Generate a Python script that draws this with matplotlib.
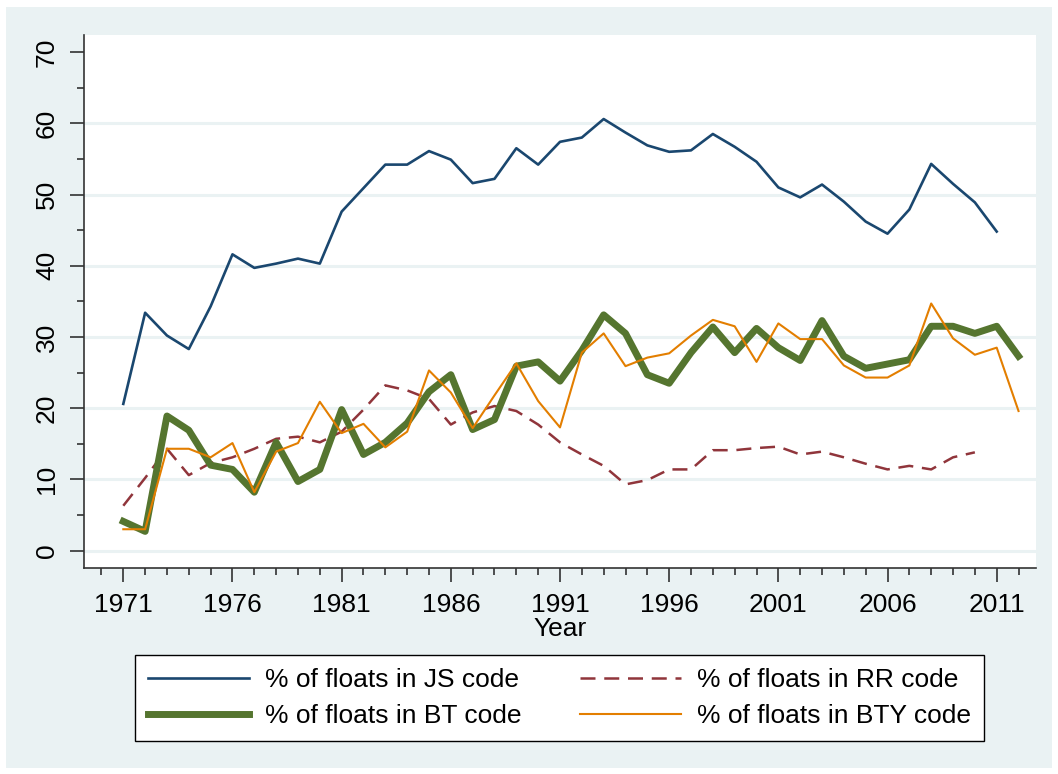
import matplotlib
matplotlib.use("Agg")
import matplotlib.pyplot as plt
from matplotlib.patches import Rectangle
import numpy as np

plt.rcParams['font.family'] = ['Liberation Sans', 'DejaVu Sans']

# Data
years = list(range(1971, 2013))

js_code = [20.6, 33.4, 30.2, 28.3, 34.3, 41.6, 39.7, 40.3, 41.0, 40.3,
           47.6, 50.9, 54.2, 54.2, 56.1, 54.9, 51.6, 52.2, 56.5, 54.2,
           57.4, 58.0, 60.6, 58.7, 56.9, 56.0, 56.2, 58.5, 56.7, 54.6,
           51.0, 49.6, 51.4, 49.0, 46.2, 44.5, 47.9, 54.3, 51.5, 48.9,
           44.8, np.nan]

rr_code = [6.3, 10.2, 14.3, 10.6, 12.3, 13.1, 14.3, 15.7, 16.0, 15.2,
           16.7, 19.8, 23.2, 22.5, 21.3, 17.7, 19.4, 20.3, 19.6, 17.7,
           15.2, 13.5, 11.9, 9.3, 9.9, 11.4, 11.4, 14.1, 14.1, 14.4,
           14.6, 13.5, 13.9, 13.1, 12.2, 11.4, 11.9, 11.4, 13.1, 13.8,
           np.nan, np.nan]

bt_code = [4.1, 2.7, 18.9, 16.9, 12.0, 11.4, 8.2, 15.2, 9.7, 11.4,
           19.8, 13.5, 15.2, 17.9, 22.3, 24.7, 17.0, 18.4, 25.9, 26.5,
           23.8, 28.1, 33.1, 30.5, 24.7, 23.5, 27.8, 31.4, 27.8, 31.2,
           28.5, 26.7, 32.3, 27.3, 25.6, 26.2, 26.8, 31.5, 31.5, 30.5,
           31.5, 27.3]

bty_code = [3.0, 3.0, 14.3, 14.3, 13.1, 15.1, 8.2, 13.9, 15.1, 20.9,
            16.5, 17.8, 14.5, 16.7, 25.3, 22.2, 17.2, 21.8, 26.3, 21.0,
            17.3, 27.8, 30.5, 25.9, 27.1, 27.7, 30.2, 32.4, 31.5, 26.5,
            31.9, 29.7, 29.7, 26.0, 24.3, 24.3, 26.0, 34.7, 29.8, 27.5,
            28.5, 19.6]

labels = ["% of floats in JS code", "% of floats in BT code",
          "% of floats in RR code", "% of floats in BTY code"]

# Stata s2color palette
bg = "#eaf2f3"
navy = "#1a476f"
maroon = "#90353b"
green = "#55752f"
orange = "#e37e00"

W, H = 1058, 774
fig = plt.figure(figsize=(W / 100, H / 100), dpi=100, facecolor="white")
fig.patches.append(Rectangle((6 / W, 1 - 768 / H), (1052 - 6) / W, (768 - 7) / H,
                             transform=fig.transFigure, facecolor=bg,
                             edgecolor="none", zorder=-10))

ax = fig.add_axes([84 / W, 1 - 567.7 / H, (1036 - 84) / W, (567.7 - 35) / H])
ax.set_facecolor("white")

for v in range(0, 70, 10):
    ax.axhline(v, color=bg, lw=2.2, zorder=1)

l_js, = ax.plot(years, js_code, color=navy, lw=1.9, zorder=3)
l_rr, = ax.plot(years, rr_code, color=maroon, lw=1.8, dashes=(6, 3.5), zorder=3)
l_bt, = ax.plot(years, bt_code, color=green, lw=5, zorder=3)
l_bty, = ax.plot(years, bty_code, color=orange, lw=1.5, zorder=4)

ax.set_xlim(1969.2, 2012.8)
ax.set_ylim(-2.4, 72.4)

ax.set_xticks(range(1971, 2012, 5))
ax.set_xticks(range(1970, 2013), minor=True)
ax.set_yticks(range(0, 71, 10))
ax.set_yticks(range(5, 70, 10), minor=True)

ax.tick_params(axis="both", which="major", length=10, width=1.1,
               color="#222222", labelsize=19, pad=8)
ax.tick_params(axis="both", which="minor", length=5, width=1.1, color="#222222")
for t in ax.get_yticklabels():
    t.set_rotation(90)
    t.set_va("center")

for s in ["top", "right"]:
    ax.spines[s].set_visible(False)
for s in ["left", "bottom"]:
    ax.spines[s].set_color("#333333")
    ax.spines[s].set_linewidth(1.2)

ax.set_xlabel("Year", fontsize=19, labelpad=0)

leg = fig.legend([l_js, l_bt, l_rr, l_bty], labels, ncol=2,
                 loc="center", bbox_to_anchor=(559.5 / W, 1 - 698 / H),
                 fontsize=19, frameon=True, fancybox=False, framealpha=1,
                 handlelength=3.85, handletextpad=0.6, columnspacing=2.2,
                 borderpad=0.5, labelspacing=0.45)
leg.get_frame().set_edgecolor("black")
leg.get_frame().set_linewidth(1.0)
leg.get_frame().set_facecolor("white")

fig.savefig("out.png", dpi=100, facecolor=fig.get_facecolor())
